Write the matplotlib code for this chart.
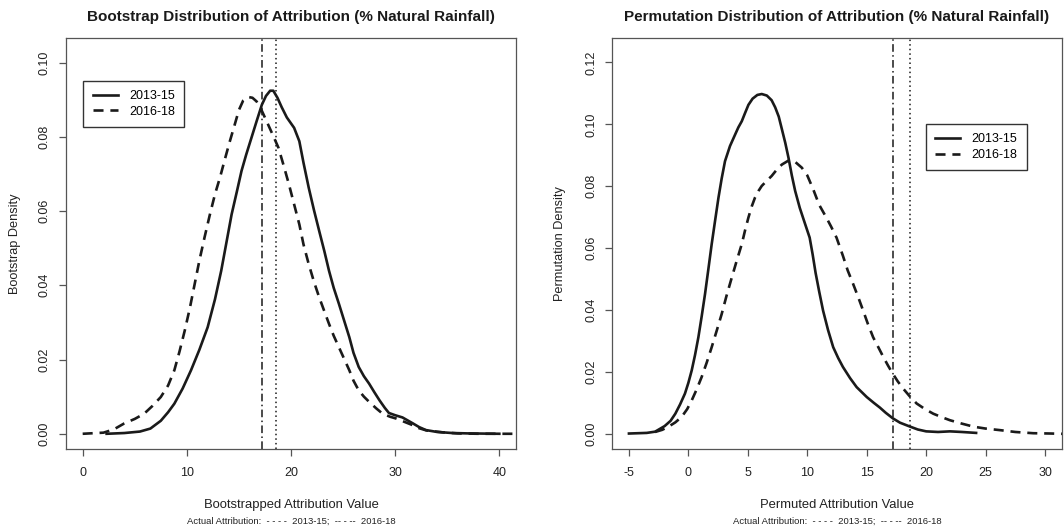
import matplotlib
matplotlib.use('Agg')
import matplotlib.pyplot as plt

plt.rcParams['font.family'] = ['Liberation Sans', 'DejaVu Sans']

# bootstrap densities (left panel)
boot_x_1315 = [2.3, 4.0, 5.5, 6.5, 7.5, 8.2, 8.8, 9.6, 10.4, 11.2, 12.0, 12.7, 13.3, 13.8, 14.3,
               14.8, 15.25, 15.7, 16.2, 16.7, 17.2, 17.6, 18.0, 18.3, 18.7, 19.1, 19.6, 20.3,
               20.8, 21.2, 21.7, 22.2, 22.7, 23.2, 23.65, 24.1, 24.6, 25.1, 25.6, 26.0, 26.5,
               27.0, 27.5, 28.0, 28.5, 29.0, 29.4, 30.0, 30.7, 31.2, 31.7, 32.3, 32.95, 34.0,
               35.5, 37.0, 40.0]
boot_y_1315 = [0.0, 0.0002, 0.0006, 0.0014, 0.0035, 0.0058, 0.0081, 0.0122, 0.0171, 0.0226,
               0.0287, 0.0362, 0.0439, 0.0515, 0.0591, 0.0652, 0.0708, 0.0752, 0.0797, 0.0842,
               0.0886, 0.0910, 0.0924, 0.0924, 0.0905, 0.0880, 0.0852, 0.0824, 0.0788, 0.0730,
               0.0663, 0.0603, 0.0547, 0.0492, 0.0439, 0.0393, 0.0350, 0.0305, 0.0260, 0.0218,
               0.0180, 0.0155, 0.0135, 0.0112, 0.0090, 0.0070, 0.0056, 0.0050, 0.0044, 0.0036,
               0.0028, 0.0018, 0.0010, 0.0005, 0.0002, 0.0001, 0.0]
boot_x_1618 = [0.0, 2.0, 3.0, 4.0, 5.0, 5.9, 6.7, 7.5, 8.2, 8.8, 9.3, 9.8, 10.3, 10.75, 11.2,
               11.7, 12.2, 12.7, 13.2, 13.6, 14.1, 14.6, 15.0, 15.4, 15.9, 16.3, 16.7, 17.2,
               17.8, 18.3, 18.8, 19.3, 19.8, 20.3, 20.8, 21.2, 21.7, 22.2, 22.7, 23.2, 23.65,
               24.1, 24.6, 25.1, 25.6, 26.0, 26.5, 27.0, 27.5, 28.2, 28.8, 29.5, 30.1, 30.9,
               31.7, 32.3, 33.0, 34.5, 36.0, 38.0, 41.6]
boot_y_1618 = [0.0, 0.0003, 0.0012, 0.0028, 0.0040, 0.0054, 0.0075, 0.0099, 0.0130, 0.0171,
               0.0222, 0.0278, 0.0340, 0.0403, 0.0466, 0.0529, 0.0589, 0.0645, 0.0692, 0.0734,
               0.0785, 0.0833, 0.0872, 0.0897, 0.0907, 0.0905, 0.0895, 0.0870, 0.0833, 0.0802,
               0.0770, 0.0722, 0.0672, 0.0618, 0.0564, 0.0510, 0.0457, 0.0410, 0.0368, 0.0330,
               0.0296, 0.0264, 0.0233, 0.0202, 0.0171, 0.0143, 0.0117, 0.0100, 0.0086, 0.0068,
               0.0054, 0.0046, 0.0041, 0.0032, 0.0023, 0.0015, 0.0009, 0.0004, 0.0001, 0.0,
               0.0]

# permutation densities (right panel)
perm_x_1315 = [-5.0, -3.5, -2.8, -2.0, -1.5, -1.1, -0.7, -0.29, 0.0, 0.28, 0.56, 0.84, 1.12,
               1.4, 1.68, 1.96, 2.25, 2.53, 2.8, 3.08, 3.5, 3.93, 4.2, 4.49, 4.75, 5.05, 5.4,
               5.8, 6.17, 6.6, 7.0, 7.3, 7.6, 7.86, 8.15, 8.42, 8.7, 8.98, 9.37, 9.8, 10.2,
               10.45, 10.7, 11.0, 11.33, 11.75, 12.18, 12.6, 13.0, 13.6, 14.15, 15.0, 15.6,
               16.1, 16.6, 17.2, 17.8, 18.6, 19.3, 20.0, 21.0, 22.0, 23.0, 24.2]
perm_y_1315 = [0.0001, 0.0003, 0.0007, 0.0025, 0.0042, 0.0065, 0.0095, 0.0130, 0.0165, 0.0205,
               0.0255, 0.0312, 0.0380, 0.0452, 0.0532, 0.0613, 0.0690, 0.0763, 0.0825, 0.0881,
               0.0930, 0.0967, 0.0990, 0.1010, 0.1035, 0.1063, 0.1083, 0.1095, 0.1098, 0.1093,
               0.1078, 0.1055, 0.1025, 0.0985, 0.0940, 0.0892, 0.0835, 0.0785, 0.0730, 0.0680,
               0.0634, 0.0580, 0.0520, 0.0460, 0.0398, 0.0335, 0.0280, 0.0245, 0.0216, 0.0180,
               0.0151, 0.0119, 0.0100, 0.0085, 0.0068, 0.0050, 0.0036, 0.0024, 0.0014, 0.0008,
               0.0006, 0.0008, 0.0006, 0.0003]
perm_x_1618 = [-2.8, -2.2, -1.68, -1.1, -0.56, -0.1, 0.28, 0.7, 1.12, 1.54, 1.96, 2.38, 2.8,
               3.2, 3.65, 4.07, 4.49, 4.77, 5.05, 5.33, 5.6, 5.9, 6.17, 6.6, 7.0, 7.4, 7.86,
               8.42, 9.0, 9.54, 10.0, 10.5, 11.0, 11.6, 12.0, 12.46, 13.0, 13.4, 13.86, 14.3,
               14.7, 15.1, 15.54, 16.0, 16.4, 16.8, 17.2, 17.6, 18.07, 18.6, 19.2, 19.9, 20.6,
               21.3, 22.0, 23.0, 24.0, 25.0, 26.2, 27.5, 29.0, 30.5, 31.5]
perm_y_1618 = [0.0006, 0.0013, 0.0023, 0.0037, 0.0055, 0.0080, 0.0108, 0.0144, 0.0184, 0.0230,
               0.0280, 0.0333, 0.0387, 0.0445, 0.0505, 0.0560, 0.0613, 0.0658, 0.0699, 0.0735,
               0.0763, 0.0785, 0.0801, 0.0818, 0.0833, 0.0852, 0.0870, 0.0883, 0.0878, 0.0860,
               0.0835, 0.0790, 0.0740, 0.0699, 0.0670, 0.0634, 0.0575, 0.0528, 0.0484, 0.0440,
               0.0398, 0.0355, 0.0312, 0.0278, 0.0248, 0.0220, 0.0194, 0.0170, 0.0146, 0.0122,
               0.0098, 0.0080, 0.0065, 0.0054, 0.0044, 0.0033, 0.0023, 0.0017, 0.0012, 0.0006,
               0.0002, 0.0001, 0.0]

actual_1315 = 18.6
actual_1618 = 17.25

labels = ['2013-15', '2016-18']
titles = ['Bootstrap Distribution of Attribution (% Natural Rainfall)',
          'Permutation Distribution of Attribution (% Natural Rainfall)']
xlabels = ['Bootstrapped Attribution Value', 'Permuted Attribution Value']
ylabels = ['Bootstrap Density', 'Permutation Density']
subtitle = 'Actual Attribution:  - - - -  2013-15;  -- - --  2016-18'

W, H = 1064, 530
fig = plt.figure(figsize=(W / 100, H / 100), dpi=100)

def px(x0, y0, x1, y1):
    return [x0 / W, 1 - y1 / H, (x1 - x0) / W, (y1 - y0) / H]

ax1 = fig.add_axes(px(66, 38, 516, 449))
ax2 = fig.add_axes(px(612.3, 38, 1061.7, 449))

DASH = (3.8, 2.6)
for ax, xa, ya, xb, yb in [(ax1, boot_x_1315, boot_y_1315, boot_x_1618, boot_y_1618),
                           (ax2, perm_x_1315, perm_y_1315, perm_x_1618, perm_y_1618)]:
    ax.plot(xa, ya, color='#1a1a1a', lw=1.9, label=labels[0], solid_joinstyle='round')
    ax.plot(xb, yb, color='#1a1a1a', lw=1.9, dashes=DASH, label=labels[1])
    ax.axvline(actual_1315, color='#1a1a1a', lw=1.1, dashes=(1, 2))
    ax.axvline(actual_1618, color='#1a1a1a', lw=1.1, dashes=(5, 2.2, 1, 2.2))
    for s in ax.spines.values():
        s.set_color('#555555')
        s.set_linewidth(0.9)
    ax.tick_params(direction='out', length=5, width=0.9, color='#555555',
                   labelsize=9, labelcolor='#222222')
    ax.tick_params(axis='x', pad=8)
    ax.tick_params(axis='y', pad=6)

ax1.set_xlim(-1.6, 41.6)
ax1.set_ylim(-0.0041, 0.1066)
ax1.set_xticks([0, 10, 20, 30, 40])
ax1.set_yticks([0.0, 0.02, 0.04, 0.06, 0.08, 0.10])

ax2.set_xlim(-6.4, 31.4)
ax2.set_ylim(-0.0049, 0.1279)
ax2.set_xticks([-5, 0, 5, 10, 15, 20, 25, 30])
ax2.set_yticks([0.0, 0.02, 0.04, 0.06, 0.08, 0.10, 0.12])

for ax in (ax1, ax2):
    ax.set_yticklabels(['%.2f' % v for v in ax.get_yticks()], rotation=90, va='center')
    ax.set_xticklabels([str(int(v)) for v in ax.get_xticks()])

ax1.legend(loc='upper left', bbox_to_anchor=(0.0384, 0.896), borderaxespad=0,
           fancybox=False, edgecolor='#333333', fontsize=9, handlelength=2.0,
           handletextpad=0.9, borderpad=0.75, labelspacing=0.3, framealpha=1)
ax2.legend(loc='upper left', bbox_to_anchor=(0.698, 0.791), borderaxespad=0,
           fancybox=False, edgecolor='#333333', fontsize=9, handlelength=2.0,
           handletextpad=0.9, borderpad=0.75, labelspacing=0.3, framealpha=1)

centers = [(66 + 516) / 2 / W, (612.3 + 1061.7) / 2 / W]
ylab_x = [15 / W, 560 / W]
for i in range(2):
    fig.text(centers[i], 1 - 17 / H, titles[i], ha='center', va='center',
             fontsize=11, fontweight='bold', color='#1a1a1a')
    fig.text(centers[i], 1 - 505 / H, xlabels[i], ha='center', va='center',
             fontsize=9.4, color='#222222')
    fig.text(centers[i], 1 - 521.5 / H, subtitle, ha='center', va='center',
             fontsize=6.8, color='#222222')
    fig.text(ylab_x[i], 1 - 243.5 / H, ylabels[i], ha='center', va='center',
             rotation=90, fontsize=9.2, color='#222222')

fig.savefig('out.png', dpi=100)
